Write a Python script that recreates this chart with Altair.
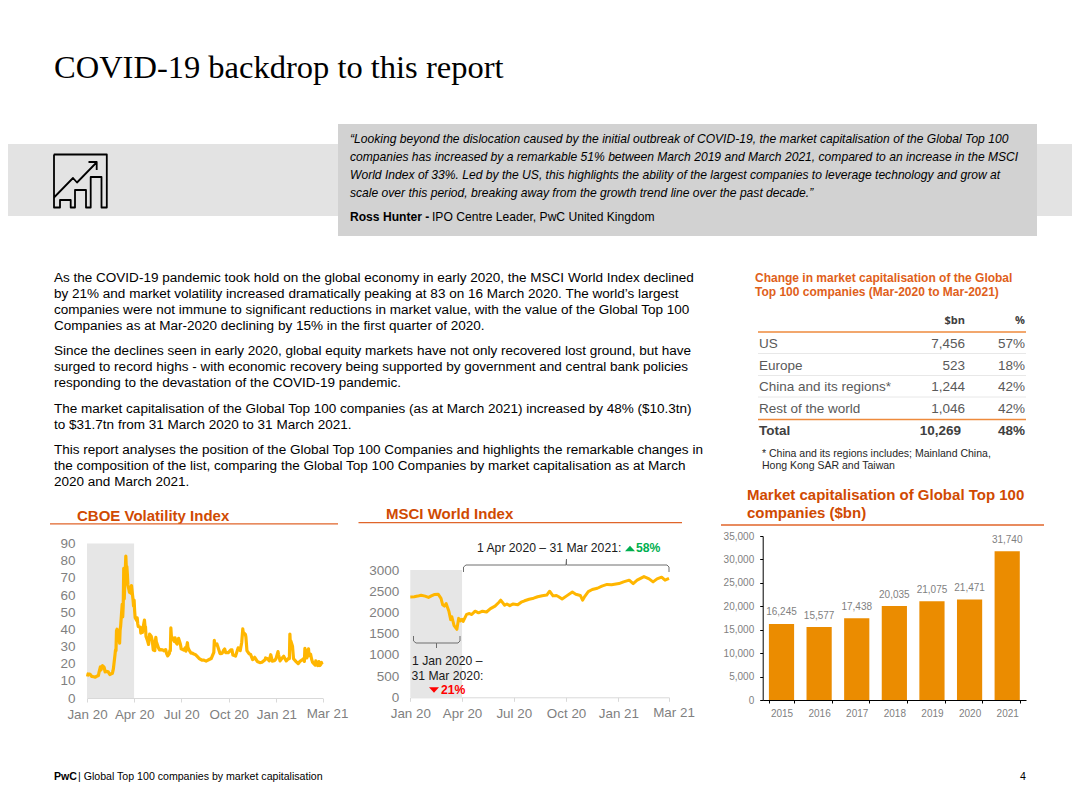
import altair as alt
import pandas as pd

W, H = 1064, 790
SANS = "Liberation Sans"
SERIF = "Liberation Serif"
ORANGE_T = "#D04A02"
YELLOW = "#FFB600"
BAR = "#EB8C00"
GREY = "#7F7F7F"

vix_dates = ["2020-01-02","2020-01-03","2020-01-06","2020-01-08","2020-01-10","2020-01-14","2020-01-17","2020-01-21","2020-01-23","2020-01-24","2020-01-27","2020-01-28","2020-01-31","2020-02-03","2020-02-05","2020-02-07","2020-02-11","2020-02-14","2020-02-19","2020-02-20","2020-02-21","2020-02-24","2020-02-25","2020-02-26","2020-02-27","2020-02-28","2020-03-02","2020-03-03","2020-03-04","2020-03-05","2020-03-06","2020-03-09","2020-03-10","2020-03-11","2020-03-12","2020-03-13","2020-03-16","2020-03-17","2020-03-18","2020-03-19","2020-03-20","2020-03-23","2020-03-24","2020-03-25","2020-03-26","2020-03-27","2020-03-30","2020-03-31","2020-04-01","2020-04-02","2020-04-03","2020-04-06","2020-04-07","2020-04-08","2020-04-09","2020-04-13","2020-04-14","2020-04-15","2020-04-16","2020-04-17","2020-04-20","2020-04-21","2020-04-22","2020-04-23","2020-04-24","2020-04-27","2020-04-29","2020-04-30","2020-05-01","2020-05-04","2020-05-06","2020-05-08","2020-05-11","2020-05-12","2020-05-13","2020-05-14","2020-05-15","2020-05-18","2020-05-20","2020-05-22","2020-05-26","2020-05-29","2020-06-01","2020-06-03","2020-06-05","2020-06-08","2020-06-09","2020-06-10","2020-06-11","2020-06-12","2020-06-15","2020-06-16","2020-06-17","2020-06-18","2020-06-19","2020-06-22","2020-06-23","2020-06-24","2020-06-25","2020-06-26","2020-06-29","2020-06-30","2020-07-01","2020-07-06","2020-07-09","2020-07-10","2020-07-13","2020-07-14","2020-07-16","2020-07-20","2020-07-23","2020-07-24","2020-07-28","2020-07-31","2020-08-05","2020-08-10","2020-08-14","2020-08-18","2020-08-24","2020-08-28","2020-09-02","2020-09-03","2020-09-04","2020-09-08","2020-09-10","2020-09-14","2020-09-18","2020-09-21","2020-09-23","2020-09-25","2020-09-30","2020-10-05","2020-10-07","2020-10-09","2020-10-14","2020-10-19","2020-10-23","2020-10-26","2020-10-28","2020-10-29","2020-10-30","2020-11-02","2020-11-03","2020-11-05","2020-11-09","2020-11-12","2020-11-16","2020-11-20","2020-11-25","2020-11-30","2020-12-04","2020-12-10","2020-12-11","2020-12-15","2020-12-18","2020-12-21","2020-12-24","2020-12-28","2020-12-31","2021-01-04","2021-01-05","2021-01-08","2021-01-12","2021-01-15","2021-01-20","2021-01-25","2021-01-26","2021-01-27","2021-01-28","2021-01-29","2021-02-01","2021-02-03","2021-02-08","2021-02-12","2021-02-16","2021-02-19","2021-02-23","2021-02-24","2021-02-25","2021-02-26","2021-03-01","2021-03-03","2021-03-04","2021-03-05","2021-03-08","2021-03-10","2021-03-12","2021-03-15","2021-03-17","2021-03-18","2021-03-19","2021-03-22","2021-03-23","2021-03-24","2021-03-25","2021-03-26","2021-03-29","2021-03-30","2021-03-31"]
vix_values = [12.5,14.0,13.9,13.5,12.6,12.4,12.1,12.9,13.0,14.6,18.2,16.3,18.8,18.0,15.2,15.5,15.2,13.7,14.4,15.6,17.1,25.0,27.9,27.6,39.2,40.1,33.4,36.8,32.0,39.6,41.9,54.5,47.3,53.9,75.5,57.8,82.7,75.9,76.5,72.0,66.0,61.6,61.7,64.0,61.0,65.5,57.1,53.5,57.1,50.9,46.8,45.2,46.7,43.4,41.7,41.2,37.8,40.8,40.1,38.2,43.8,45.4,42.0,41.4,35.9,33.3,31.2,34.2,37.2,36.0,33.6,28.0,27.6,33.0,35.3,32.6,31.9,29.3,28.0,28.2,28.0,27.5,28.2,25.7,24.5,25.8,27.6,27.6,40.8,36.1,34.4,33.7,33.5,32.9,35.1,31.8,31.4,33.8,32.2,34.7,31.8,30.4,28.6,27.9,29.3,27.3,32.2,29.5,28.0,26.1,26.1,25.8,25.4,24.5,23.0,22.1,22.05,21.5,22.4,23.0,26.6,33.6,30.8,31.5,29.7,25.9,26.0,27.8,28.6,26.4,26.4,28.0,28.1,25.0,24.4,29.2,27.6,32.5,40.3,37.6,38.0,37.1,35.5,27.6,25.8,25.4,22.4,23.7,21.3,20.6,20.8,22.3,23.3,22.9,21.6,25.2,21.5,21.7,22.8,27.0,25.3,21.6,23.3,24.3,21.6,23.2,23.0,37.2,30.2,33.1,30.2,22.9,21.2,20.0,21.5,22.05,23.1,21.3,28.9,28.0,23.4,26.7,28.6,24.7,25.5,22.6,20.7,19.8,19.2,21.6,21.0,18.9,20.3,21.2,19.8,18.9,20.7,19.6,19.4]

msci_dates = ["2020-01-01","2020-01-08","2020-01-14","2020-01-20","2020-01-27","2020-02-02","2020-02-07","2020-02-12","2020-02-19","2020-02-24","2020-02-27","2020-03-01","2020-03-04","2020-03-09","2020-03-12","2020-03-14","2020-03-18","2020-03-23","2020-03-26","2020-03-29","2020-04-01","2020-04-03","2020-04-09","2020-04-14","2020-04-18","2020-04-24","2020-04-30","2020-05-07","2020-05-14","2020-05-21","2020-05-29","2020-06-05","2020-06-08","2020-06-15","2020-06-19","2020-06-24","2020-06-30","2020-07-08","2020-07-14","2020-07-20","2020-07-28","2020-08-05","2020-08-12","2020-08-20","2020-08-28","2020-09-02","2020-09-08","2020-09-14","2020-09-18","2020-09-24","2020-10-02","2020-10-12","2020-10-18","2020-10-26","2020-10-30","2020-11-03","2020-11-09","2020-11-16","2020-11-25","2020-12-03","2020-12-12","2020-12-20","2021-01-02","2021-01-10","2021-01-20","2021-01-27","2021-02-03","2021-02-15","2021-02-24","2021-03-03","2021-03-10","2021-03-18","2021-03-24","2021-03-31"]
msci_values = [2365,2370,2385,2405,2385,2355,2390,2420,2430,2330,2180,2150,2210,2020,1830,1900,1690,1602,1860,1800,1840,1790,1955,1975,1950,2030,1990,2030,2010,2090,2150,2240,2290,2170,2200,2160,2200,2180,2240,2275,2310,2335,2370,2395,2410,2500,2390,2400,2370,2315,2390,2480,2430,2400,2290,2380,2490,2540,2570,2620,2660,2650,2680,2720,2760,2680,2760,2845,2790,2720,2790,2830,2760,2800]

years = ["2015","2016","2017","2018","2019","2020","2021"]
market_caps = [16245,15577,17438,20035,21075,21471,31740]

page_title = "COVID-19 backdrop to this report"
quote_lines = [
    "\u201cLooking beyond the dislocation caused by the initial outbreak of COVID-19, the market capitalisation of the Global Top 100",
    "companies has increased by a remarkable 51% between March 2019 and March 2021, compared to an increase in the MSCI",
    "World Index of 33%. Led by the US, this highlights the ability of the largest companies to leverage technology and grow at",
    "scale over this period, breaking away from the growth trend line over the past decade.\u201d",
]
body_1 = [
    "As the COVID-19 pandemic took hold on the global economy in early 2020, the MSCI World Index declined",
    "by 21% and market volatility increased dramatically peaking at 83 on 16 March 2020. The world\u2019s largest",
    "companies were not immune to significant reductions in market value, with the value of the Global Top 100",
    "Companies as at Mar-2020 declining by 15% in the first quarter of 2020.",
]
body_2 = [
    "Since the declines seen in early 2020, global equity markets have not only recovered lost ground, but have",
    "surged to record highs - with economic recovery being supported by government and central bank policies",
    "responding to the devastation of the COVID-19 pandemic.",
]
body_3 = [
    "The market capitalisation of the Global Top 100 companies (as at March 2021) increased by 48% ($10.3tn)",
    "to $31.7tn from 31 March 2020 to 31 March 2021.",
]
body_4 = [
    "This report analyses the position of the Global Top 100 Companies and highlights the remarkable changes in",
    "the composition of the list, comparing the Global Top 100 Companies by market capitalisation as at March",
    "2020 and March 2021.",
]
table_regions = ["US","Europe","China and its regions*","Rest of the world"]
table_bn = ["7,456","523","1,244","1,046"]
table_pct = ["57%","18%","42%","42%"]

one = pd.DataFrame({"t": [""]})

def T(text, x, y, size=13, color="#000000", bold=False, italic=False, align="left", font=SANS):
    return alt.Chart(pd.DataFrame({"t": [text]})).mark_text(
        align=align, baseline="middle", fontSize=size, color=color, font=font,
        fontWeight="bold" if bold else "normal", fontStyle="italic" if italic else "normal",
    ).encode(text="t:N", x=alt.value(x - 8), y=alt.value(y - 8))

def R(x1, y1, x2, y2, color, w=1.0):
    return alt.Chart(one).mark_rule(color=color, strokeWidth=w).encode(
        x=alt.value(x1 - 8), x2=alt.value(x2 - 8), y=alt.value(y1 - 8), y2=alt.value(y2 - 8))

def BOX(x1, y1, x2, y2, color):
    return alt.Chart(one).mark_rect(color=color).encode(
        x=alt.value(x1 - 8), x2=alt.value(x2 - 8), y=alt.value(y1 - 8), y2=alt.value(y2 - 8))

def GLYPH(polylines, cx, cy, half, color="#000000", w=1.0):
    parts = []
    for pl in polylines:
        pts = [f"{(px - cx) / half:.4f},{(py - cy) / half:.4f}" for px, py in pl]
        parts.append("M" + "L".join(pts))
    return alt.Chart(one).mark_point(
        shape="".join(parts), size=(2 * half) ** 2, filled=False, stroke=color,
        strokeWidth=w, opacity=1, strokeJoin="round",
    ).encode(x=alt.value(cx - 8), y=alt.value(cy - 8))

TRI_UP = "M-1,0.55L1,0.55L0,-0.55Z"
TRI_DOWN = "M-1,-0.55L1,-0.55L0,0.55Z"

def TRI(shape, x, y, color):
    return alt.Chart(one).mark_point(shape=shape, size=100, filled=True, color=color, opacity=1).encode(
        x=alt.value(x - 8), y=alt.value(y - 8))

def utc(y, m, d):
    return alt.DateTime(year=y, month=m, date=d, utc=True)

tick_dates = [utc(2020,1,1), utc(2020,4,1), utc(2020,7,1), utc(2020,10,1), utc(2021,1,1), utc(2021,3,31)]

def line_panel(dates, values, xr, yr, ymax, ystep, band_end, lw, label_pad):
    xs = alt.Scale(type="utc", domain=[utc(2020,1,1), utc(2021,3,31)], range=[xr[0] - 8, xr[1] - 8])
    ys = alt.Scale(domain=[0, ymax], range=[yr[0] - 8, yr[1] - 8], nice=False)
    xax = alt.Axis(values=tick_dates, title=None, orient="bottom", offset=yr[0] - 8 - H, grid=False,
                   domainColor="#D9D9D9", tickColor="#D9D9D9", tickSize=4, labelFont=SANS, labelFontSize=13.4,
                   labelColor=GREY, labelPadding=5, labelOverlap=False, labelFlush=False,
                   labelExpr="utcmonth(datum.value)==2 ? '' : utcFormat(datum.value, '%b %y')")
    yax = alt.Axis(values=list(range(0, ymax + 1, ystep)), title=None, orient="left", offset=-(xr[0] - 8), grid=False,
                   domain=False, ticks=False, labelFont=SANS, labelFontSize=13.5, labelColor=GREY,
                   labelPadding=label_pad, labelOverlap=False, labelExpr="format(datum.value, 'd')")
    band_df = pd.DataFrame({"a": ["2020-01-01"], "b": [band_end], "lo": [0], "hi": [ymax]})
    band = alt.Chart(band_df).mark_rect(color="#E6E6E6").encode(
        x=alt.X("a:T", scale=xs, axis=xax), x2="b:T",
        y=alt.Y("lo:Q", scale=ys, axis=yax), y2="hi:Q")
    df = pd.DataFrame({"d": dates, "v": values})
    line = alt.Chart(df).mark_line(color=YELLOW, strokeWidth=lw, strokeJoin="round", clip=False).encode(
        x=alt.X("d:T", scale=xs), y=alt.Y("v:Q", scale=ys))
    last = alt.Chart(pd.DataFrame({"d": ["2021-03-31"], "v": [0], "t": ["Mar 21"]})).mark_text(
        font=SANS, fontSize=13.4, color=GREY, dx=5, baseline="middle", dy=16, align="center"
    ).encode(x=alt.X("d:T", scale=xs), y=alt.Y("v:Q", scale=ys), text="t:N")
    return alt.layer(band, line, last)

vix = line_panel(vix_dates, vix_values, (87, 322.5), (698, 543.5), 90, 10, "2020-04-01", 3.2, 12)
msci = line_panel(msci_dates, msci_values, (410.3, 669), (697.3, 570), 3000, 500, "2020-04-01", 3, 11.5)

bar_x = alt.Scale(domain=years, range=[762.7 - 8, 1026 - 8], paddingInner=0.33, paddingOuter=0.165)
bar_y = alt.Scale(domain=[0, 35000], range=[700 - 8, 536 - 8], nice=False)
bar_df = pd.DataFrame({"year": years, "cap": market_caps})
bars = alt.Chart(bar_df).mark_bar(color=BAR).encode(
    x=alt.X("year:N", scale=bar_x, axis=alt.Axis(
        title=None, orient="bottom", offset=700 - 8 - H, domainColor="#000000", tickColor="#000000", tickSize=3,
        tickBand="extent", labelAngle=0, labelFont=SANS, labelFontSize=10, labelColor=GREY, labelPadding=5, grid=False)),
    y=alt.Y("cap:Q", scale=bar_y, axis=alt.Axis(
        title=None, orient="left", offset=-(762.7 - 8), values=list(range(0, 35001, 5000)), domainColor="#000000",
        tickColor="#000000", tickSize=3, labelFont=SANS, labelFontSize=10, labelColor=GREY, labelPadding=6,
        grid=False, labelExpr="format(datum.value, ',')")),
)
bar_labels = alt.Chart(bar_df).mark_text(font=SANS, fontSize=10, color=GREY, baseline="middle", dy=-11.5).encode(
    x=alt.X("year:N", scale=bar_x), y=alt.Y("cap:Q", scale=bar_y), text=alt.Text("cap:Q", format=","))
bar_panel = alt.layer(bars, bar_labels)

# Decorations
layers = [
    BOX(0, 144, 1080, 216, "#E3E3E3"),
    BOX(338, 124, 1037, 236, "#D2D2D2"),
    T(page_title, 54, 68, size=32.5, font=SERIF),
    GLYPH([
        [(53.8,154.5),(106.8,154.5),(106.8,207.5),(101.5,207.5),(101.5,177),(90.7,177),(90.7,207.5),(86,207.5),(86,190),(75,190),(75,207.5),(70.7,207.5),(70.7,200),(60,200),(60,207.5),(54,207.5),(54,154.5)],
        [(54,197.5),(73,178),(77,182.5),(96.5,162.5)],
        [(88.5,162),(96.7,162),(96.7,170)],
    ], 80, 181, 27, w=1.8),
]
for i, (line, y) in enumerate(zip(quote_lines, [139, 157, 175, 193])):
    layers.append(T(line, 350, y, size=12.1, italic=True))
layers += [T("Ross Hunter - ", 350, 217, size=12.1, bold=True),
           T("IPO Centre Leader, PwC United Kingdom", 432, 217, size=12.1)]
for lines, ys in [(body_1, [278, 294, 310, 326]), (body_2, [351, 367, 383]), (body_3, [409, 425]), (body_4, [450, 466, 482])]:
    for line, y in zip(lines, ys):
        layers.append(T(line, 54, y, size=13.52))

# Table
layers += [
    T("Change in market capitalisation of the Global", 755, 278, size=12, color="#E0601A", bold=True),
    T("Top 100 companies (Mar-2020 to Mar-2021)", 755, 292, size=12, color="#E0601A", bold=True),
    T("$bn", 965, 321, size=11, color="#404040", bold=True, align="right", font="Open Sans"),
    T("%", 1025, 321, size=11, color="#404040", bold=True, align="right", font="Open Sans"),
    R(758, 332, 1026, 332, "#EE8A3C", 1.6),
    R(758, 353.5, 1026, 353.5, "#E8E8E8", 1),
    R(758, 375.5, 1026, 375.5, "#E8E8E8", 1),
    R(758, 397, 1026, 397, "#E8E8E8", 1),
    R(758, 419.5, 1026, 419.5, "#EE8A3C", 1.6),
]
for reg, bn, pct, y in zip(table_regions, table_bn, table_pct, [344, 365.5, 387, 409]):
    layers += [T(reg, 759, y, size=13.5, color="#595959"),
               T(bn, 965, y, size=13.5, color="#595959", align="right"),
               T(pct, 1025, y, size=13.5, color="#595959", align="right")]
layers += [
    T("Total", 759, 431, size=13.5, color="#404040", bold=True),
    T("10,269", 961, 431, size=13.5, color="#404040", bold=True, align="right"),
    T("48%", 1025, 431, size=13.5, color="#404040", bold=True, align="right"),
    T("* China and its regions includes; Mainland China,", 762, 454, size=10.5, color="#262626"),
    T("Hong Kong SAR and Taiwan", 762, 466, size=10.5, color="#262626"),
]

# Chart titles
layers += [
    T("CBOE Volatility Index", 77, 516, size=15, color=ORANGE_T, bold=True),
    R(50, 523.8, 338, 523.8, "#E0652A", 1.3),
    T("MSCI World Index", 386, 514, size=15, color=ORANGE_T, bold=True),
    R(358.5, 522.7, 682, 522.7, "#E0652A", 1.3),
    T("Market capitalisation of Global Top 100", 747, 495, size=15, color=ORANGE_T, bold=True),
    T("companies ($bn)", 747, 513, size=15, color=ORANGE_T, bold=True),
    R(721, 525, 1044, 525, "#E0652A", 1.5),
]

layers += [vix, msci, bar_panel]

# MSCI annotations
layers += [
    GLYPH([[(463.5,572),(463.5,567),(466,565),(566,565),(566.5,559),(566.5,565),(667,565),(669,567),(669,572)]], 566, 565, 110, color="#6E6E6E", w=1),
    GLYPH([[(413.5,636),(413.5,641),(416,643),(436.5,643),(436.5,648),(436.5,643),(458,643),(460,641),(460,636)]], 437, 642, 26, color="#6E6E6E", w=1),
    T("1 Apr 2020 \u2013 31 Mar 2021:", 477, 548, size=12.2, color="#1A1A1A"),
    TRI(TRI_UP, 630, 548.5, "#00AF50"),
    T("58%", 636, 548, size=12.2, color="#00AF50", bold=True),
    T("1 Jan 2020 \u2013", 412, 661, size=12.2, color="#1A1A1A"),
    T("31 Mar 2020:", 411.5, 676, size=12.2, color="#1A1A1A"),
    TRI(TRI_DOWN, 434, 690, "#FF0000"),
    T("21%", 441, 690, size=12.2, color="#FF0000", bold=True),
]

# Footer
layers += [
    T("PwC", 54, 777, size=10.6, bold=True),
    T("| Global Top 100 companies by market capitalisation", 78, 777, size=10.6),
    T("4", 1026, 777, size=10.6, align="right"),
]

chart = alt.layer(*layers).resolve_scale(x="independent", y="independent").properties(
    width=W, height=H, padding=0, autosize=alt.AutoSizeParams(type="none"), background="white"
).configure_view(stroke=None)

chart.save("out.html", embed_options={"renderer": "svg", "actions": False})
